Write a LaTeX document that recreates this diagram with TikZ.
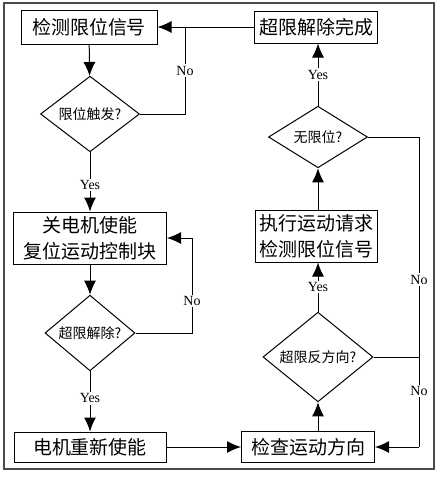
\documentclass[tikz,border=0pt]{standalone}
\usepackage{fontspec}
\setmainfont{Liberation Serif}
\newfontfamily\cjk{Noto Sans CJK SC}
\usetikzlibrary{shapes.geometric, arrows.meta, positioning}
\tikzset{
>={Latex[length=14pt,width=12pt]}, % big filled heads
box/.style={draw, inner sep=0pt, align=center, font=\cjk\fontsize{19}{26}\selectfont}, % process steps
decision/.style={draw, diamond, inner sep=0pt, font=\cjk\fontsize{14}{16}\selectfont}, % tests
answer/.style={fill=white, inner sep=1.5pt, font=\fontsize{14}{16}\selectfont}, % Yes / No
}

\begin{document}
\begin{tikzpicture}[x=1pt, y=-1pt, line width=1pt]
        \useasboundingbox (0,0) rectangle (440,477);
        \draw[line width=1.6pt, black!70] (4,3) rectangle (434,469);
        % left column
        \node[box, minimum width=136pt, minimum height=34pt] (chk) at (89,27) {检测限位信号};
        \node[decision, minimum width=99pt, minimum height=59pt] (trig) at (90,114) {限位触发?};
        \node[box, minimum width=153pt, minimum height=52pt] (off) at (90,238) {关电机使能\\复位运动控制块};
        \node[decision, minimum width=90pt, minimum height=59pt] (rel) at (90,333) {超限解除?};
        \node[box, minimum width=152pt, minimum height=30pt] (en) at (90,447) {电机重新使能};
        % right column
        \node[box, minimum width=133pt, minimum height=31pt] (dir) at (308,447) {检查运动方向};
        \node[decision, minimum width=110pt, minimum height=58pt] (rev) at (318,357) {超限反方向?};
        \node[box, minimum width=122pt, minimum height=52pt] (exe) at (316,236) {执行运动请求\\检测限位信号};
        \node[decision, minimum width=99pt, minimum height=59pt] (none) at (318,137) {无限位?};
        \node[box, minimum width=123pt, minimum height=32pt] (done) at (316,27) {超限解除完成};
        \coordinate (c1) at (185,27);
        \coordinate (c2) at (192,333);
        \coordinate (c3) at (419,447);

        \draw[->] (chk) -- (trig);
        \draw (trig.east) -| node[answer, pos=0.75]{No} (c1);
        \draw[->] (done.west) -- (chk.east);
        \draw[->] (trig) -- node[answer, pos=0.55]{Yes} (off);
        \draw[->] (off) -- (rel);
        \draw[->] (rel.east) -- (c2) |- node[answer, pos=0.17]{No} (off.east);
        \draw[->] (rel) -- node[answer, pos=0.45]{Yes} (en);
        \draw[->] (en) -- (dir);
        \draw[->] (rev.south |- dir.north) -- (rev.south);
        \draw[->] (rev.north) -- node[answer, pos=0.5]{Yes} (rev.north |- exe.south);
        \draw[->] (none.south |- exe.north) -- (none.south);
        \draw[->] (none.north) -- node[answer, pos=0.5]{Yes} (none.north |- done.south);
        \draw (none.east) -| node[answer, pos=0.73]{No} node[answer, pos=0.91]{No} (c3);
        \draw (rev.east) -- (rev.east -| c3);
        \draw[->] (c3) -- (dir.east);
\end{tikzpicture}
\end{document}
